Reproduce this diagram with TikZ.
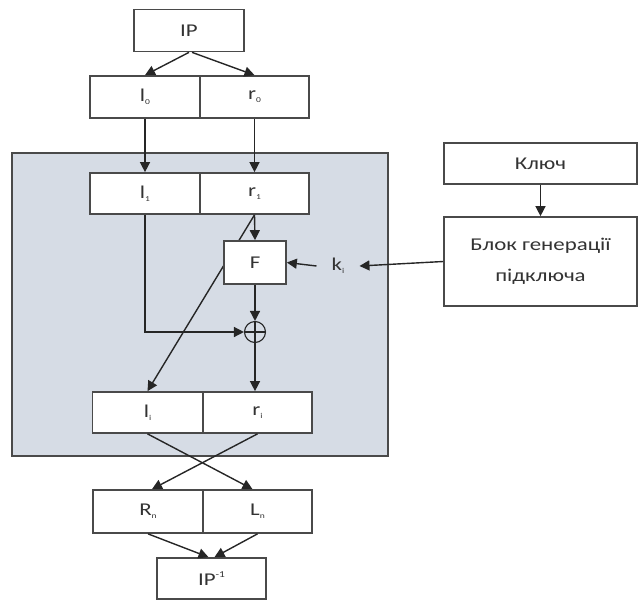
\documentclass[tikz,border=0pt]{standalone}
\usepackage{fontspec}
\setmainfont{Carlito}[FakeStretch=1.27]
\usetikzlibrary{arrows.meta}
\definecolor{roundfill}{HTML}{D6DCE5}
\definecolor{edgec}{HTML}{4A4A4A}
\definecolor{textc}{HTML}{333333}
\newcommand\idx[1]{\raisebox{-0.35ex}{\fontsize{7.5}{8}\selectfont #1}}
\newcommand\upidx[1]{\raisebox{0.9ex}{\fontsize{9}{9}\selectfont #1}}
\begin{document}
\begin{tikzpicture}[x=1pt,y=-1pt,
  cell/.style={draw=edgec,fill=white,line width=1.7pt,inner sep=0pt,text=textc,
    minimum width=#1,minimum height=42pt,font=\fontsize{18}{21}\selectfont},
  cell/.default=110pt,
  arr/.style={-{Triangle[length=10pt,width=10pt]},line width=1.4pt,draw=black!85},
  ln/.style={line width=1.2pt,draw=black!85}]
\useasboundingbox (0,0) rectangle (640,600);

% round block background
\node[draw=edgec,fill=roundfill,line width=1.8pt,minimum width=376pt,minimum height=303pt,inner sep=0pt] (round) at (200,304.5) {};

% data path cells
\node[cell] (ip) at (189,30.5) {IP};
\node[cell] (l0) at (145,97) {l\idx{0}};
\node[cell=109pt] (r0) at (254.5,97) {r\idx{0}};
\node[cell,minimum height=41pt] (l1) at (145,193.5) {l\idx{1}};
\node[cell=109pt,minimum height=41pt] (r1) at (254.5,193.5) {r\idx{1}};
\node[cell,minimum height=41pt] (li) at (147.5,412.5) {l\idx{i}};
\node[cell=109pt,minimum height=41pt] (ri) at (257.5,412.5) {r\idx{i}};
\node[cell,minimum height=43pt] (R) at (148,511.5) {R\idx{n}};
\node[cell=109pt,minimum height=43pt] (L) at (257.5,511.5) {L\idx{n}};
\node[cell=109pt,minimum height=41pt] (ipinv) at (211.5,578.5) {IP\upidx{-1}};

% swap of r1 into the left half (passes behind F)
\draw[arr] (r1.south) -- (li.north);

% round function and key schedule
\node[cell=62pt,minimum height=43pt] (f) at (255,262.5) {F};
\node[draw=black!85,line width=1.1pt,circle,inner sep=0pt,minimum size=21pt] (xor) at (255,332) {};
\draw[ln] (xor.north) -- (xor.south) (xor.west) -- (xor.east);
\node[font=\fontsize{18}{21}\selectfont,text=textc,inner sep=0pt] (ki) at (338,266) {k\idx{i}};
\node[cell=193pt,minimum height=41pt] (key) at (540.5,163.5) {Ключ};
\node[cell=193pt,minimum height=89pt,align=center,font=\fontsize{18}{31}\selectfont] (gen) at (540.5,261.5) {Блок генерації\\підключа};

% connectors
\draw[arr] (ip.south) -- (l0.north);
\draw[arr] ([xshift=3pt]ip.south) -- (r0.north);
\draw[arr] (l0.south) -- (l1.north);
\draw[arr] (r0.south) -- (r1.north);
\draw[arr] (r1.south) -- (f.north);
\draw[arr] (l1.south) |- (xor.west);
\draw[arr] (f.south) -- (xor.north);
\draw[arr] (xor.south) -- (xor.south |- ri.north);
\draw[arr] (key.south) -- (gen.north);
\draw[arr] (gen.west) -- ([xshift=15pt]ki.east);
\draw[arr] ([xshift=-15pt]ki.west) -- (f.east);
\draw[arr] (li.south) -- ([xshift=-5pt]L.north);
\draw[arr] (ri.south) -- ([xshift=4pt]R.north);
\draw[arr] (R.south) -- ([xshift=-3pt]ipinv.north);
\draw[arr] (L.south) -- ([xshift=3pt]ipinv.north);
\end{tikzpicture}
\end{document}
